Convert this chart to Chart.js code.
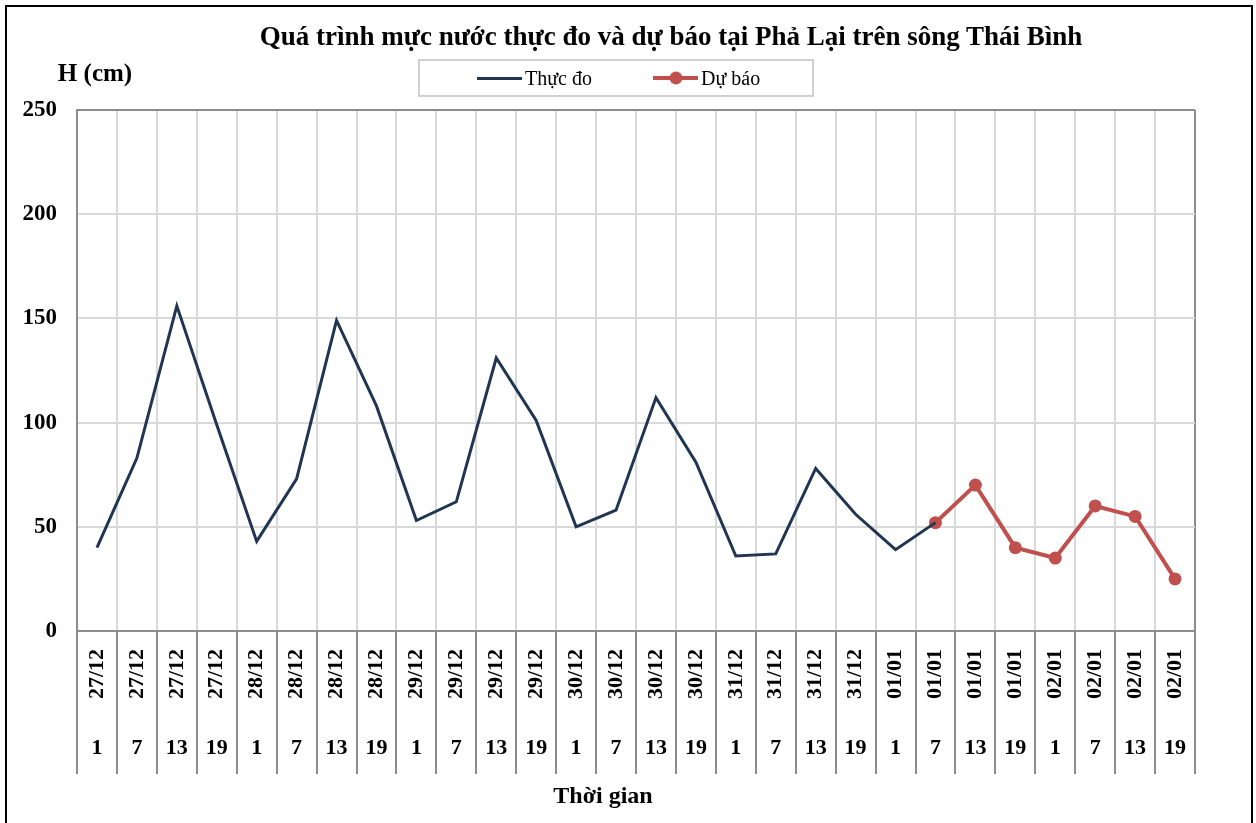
<!DOCTYPE html>
<html lang="vi">
<head>
<meta charset="UTF-8">
<title>Mực nước Phả Lại</title>
<style>
  body { margin: 0; background: #fff; width: 1256px; height: 823px; overflow: hidden; position: relative; font-family: 'Times New Roman', 'Liberation Serif', serif; }
  #frame { position: absolute; left: 5px; top: 5px; width: 1248px; height: 900px; border: 2px solid #000; box-sizing: border-box; }
  #chart { position: absolute; left: 0; top: 0; }
  .lbl { position: absolute; transform: translate(-50%, -50%); white-space: nowrap; color: #000; font-weight: bold; }
  #title { left: 671px; top: 36px; font-size: 27px; }
  #yTitle { left: 95px; top: 73px; font-size: 25px; }
  #xTitle { left: 603px; top: 795px; font-size: 24px; }
  #legend { position: absolute; left: 418px; top: 59px; width: 396px; height: 38px; box-sizing: border-box; border: 2px solid #d0d0d0; font-size: 20px; }
  .item { position: absolute; top: 0; height: 34px; display: flex; align-items: center; }
  .sample { position: relative; width: 45px; margin-right: 3px; }
  .dot { position: absolute; left: 50%; top: 50%; width: 13px; height: 13px; border-radius: 50%; transform: translate(-50%, -50%); }
</style>
</head>
<body>
<div id="frame"></div>
<canvas id="chart" width="1256" height="823"></canvas>
<div id="title" class="lbl">Quá trình mực nước thực đo và dự báo tại Phả Lại trên sông Thái Bình</div>
<div id="yTitle" class="lbl">H (cm)</div>
<div id="xTitle" class="lbl">Thời gian</div>
<div id="legend"></div>

<script src="https://cdn.jsdelivr.net/npm/chart.js"></script>
<script>
// Ngày và giờ quan trắc (trục hoành hai tầng)
const dates = ['27/12','27/12','27/12','27/12','28/12','28/12','28/12','28/12',
               '29/12','29/12','29/12','29/12','30/12','30/12','30/12','30/12',
               '31/12','31/12','31/12','31/12','01/01','01/01','01/01','01/01',
               '02/01','02/01','02/01','02/01'];
const hours = ['1','7','13','19','1','7','13','19','1','7','13','19','1','7','13','19',
               '1','7','13','19','1','7','13','19','1','7','13','19'];

// Mực nước thực đo (cm)
const observed = [40, 83, 156, 99, 43, 73, 149, 108, 53, 62, 131, 101, 50, 58, 112, 81,
                  36, 37, 78, 56, 39, 52, null, null, null, null, null, null];
// Mực nước dự báo (cm)
const forecast = [null, null, null, null, null, null, null, null, null, null, null, null, null, null,
                  null, null, null, null, null, null, null, 52, 70, 40, 35, 60, 55, 25];

const seriesNames = ['Thực đo', 'Dự báo'];
const seriesColors = ['#1f3552', '#c0504d'];

const yTicks = { min: 0, max: 250, step: 50 };

// Chú giải vẽ bằng HTML (khung viền như Excel)
const legend = document.getElementById('legend');
const itemLeft = [57, 233];
seriesNames.forEach((name, i) => {
    const item = document.createElement('div');
    item.className = 'item';
    item.style.left = itemLeft[i] + 'px';
    const sample = document.createElement('span');
    sample.className = 'sample';
    sample.style.height = (i === 0 ? 3 : 4) + 'px';
    sample.style.background = seriesColors[i];
    if (i === 1) {
        const dot = document.createElement('span');
        dot.className = 'dot';
        dot.style.background = seriesColors[i];
        sample.appendChild(dot);
    }
    item.appendChild(sample);
    item.appendChild(document.createTextNode(name));
    legend.appendChild(item);
});

const serif = "'Times New Roman', 'Liberation Serif', serif";
const axisGray = '#8c8c8c';
const gridGray = '#d9d9d9';

new Chart(document.getElementById('chart'), {
    type: 'line',
    data: {
        labels: dates,
        datasets: [{
            label: seriesNames[0],
            data: observed,
            borderColor: seriesColors[0],
            backgroundColor: seriesColors[0],
            borderWidth: 3,
            pointRadius: 0,
            tension: 0
        }, {
            label: seriesNames[1],
            data: forecast,
            borderColor: seriesColors[1],
            backgroundColor: seriesColors[1],
            borderWidth: 4,
            pointRadius: 6.5,
            pointBorderWidth: 0,
            pointBackgroundColor: seriesColors[1],
            tension: 0
        }]
    },
    options: {
        responsive: false,
        animation: false,
        layout: { padding: { left: 0, right: 61, top: 110, bottom: 42 } },
        plugins: {
            legend: { display: false },
            title: { display: false },
            tooltip: { enabled: false }
        },
        scales: {
            x: {
                offset: true,
                grid: {
                    offset: true,
                    color: ctx => (ctx.index === 0 || ctx.tick === undefined) ? axisGray : gridGray,
                    lineWidth: 2,
                    drawTicks: true,
                    tickLength: 143,
                    tickColor: axisGray,
                    tickWidth: 2
                },
                border: { color: axisGray, width: 2 },
                ticks: {
                    autoSkip: false,
                    minRotation: 90,
                    maxRotation: 90,
                    padding: -125,
                    color: '#000',
                    font: { family: serif, size: 22, weight: 'bold' }
                },
                afterFit: s => { s.height = 90; }
            },
            x2: {
                type: 'category',
                labels: hours,
                position: 'bottom',
                offset: true,
                grid: { display: false, drawTicks: false },
                border: { display: false },
                ticks: {
                    autoSkip: false,
                    maxRotation: 0,
                    padding: 14,
                    color: '#000',
                    font: { family: serif, size: 22, weight: 'bold' }
                },
                afterFit: s => { s.height = 60; }
            },
            y: {
                min: yTicks.min,
                max: yTicks.max,
                grid: {
                    color: ctx => (ctx.tick && ctx.tick.value === yTicks.max) ? axisGray : gridGray,
                    lineWidth: 2,
                    drawTicks: false
                },
                border: { color: axisGray, width: 2 },
                ticks: {
                    stepSize: yTicks.step,
                    padding: 20,
                    color: '#000',
                    font: { family: serif, size: 23, weight: 'bold' }
                },
                afterFit: s => { s.width = 77; }
            }
        }
    }
});
</script>
</body>
</html>
